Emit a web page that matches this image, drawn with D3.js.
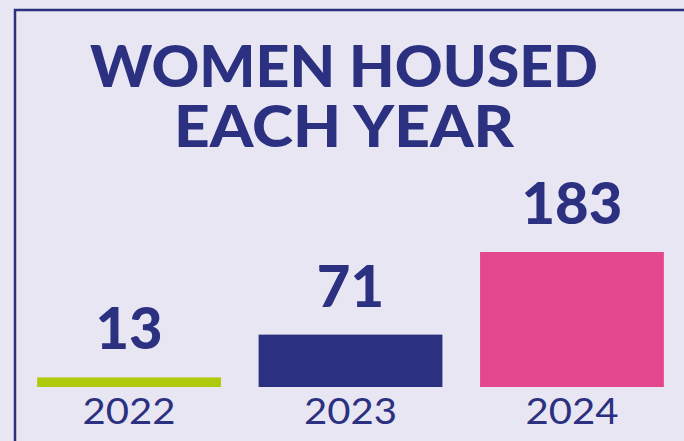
<!DOCTYPE html>
<html><head><meta charset="utf-8">
<script src="https://cdn.jsdelivr.net/npm/d3@7"></script>
<style>html,body{margin:0;padding:0;background:#e8e6f2;overflow:hidden}</style>
</head><body>
<svg id="c" width="684" height="441"></svg>
<script>
const years = ["2022", "2023", "2024"];
const values = [13, 71, 183];
const barColors = ["#afca0b", "#2b3180", "#e3488f"];
const titleLines = ["WOMEN HOUSED", "EACH YEAR"];

const W = 684, H = 441;
const navy = "#2b3180";
const svg = d3.select("#c");
svg.append("rect").attr("width", W).attr("height", H).attr("fill", "#e8e6f2");
// frame (left + top)
svg.append("path").attr("d", `M15,${H} L15,10 L${W},10`).attr("fill", "none")
  .attr("stroke", navy).attr("stroke-width", 2.5);

const titleW = [508, 340];
titleLines.forEach((t, i) => {
  svg.append("text").attr("x", 344).attr("y", 87 + i * 60)
    .attr("text-anchor", "middle").attr("font-family", "Lato").attr("font-weight", 900)
    .attr("font-size", 57).attr("fill", navy)
    .attr("textLength", titleW[i]).attr("lengthAdjust", "spacingAndGlyphs").text(t);
});

const x = d3.scaleBand().domain(years).range([15, 686]).paddingInner(0.17).paddingOuter(0.1);
const y = d3.scaleLinear().domain([0, 183]).range([387, 252]);

const g = svg.append("g");
g.selectAll("rect.bar").data(years).join("rect").attr("class", "bar")
  .attr("x", d => x(d)).attr("width", x.bandwidth())
  .attr("y", (d, i) => y(values[i])).attr("height", (d, i) => y(0) - y(values[i]))
  .attr("fill", (d, i) => barColors[i]);

g.selectAll("text.val").data(years).join("text").attr("class", "val")
  .attr("x", d => x(d) + x.bandwidth() / 2).attr("y", (d, i) => y(values[i]) - 28)
  .attr("text-anchor", "middle").attr("font-family", "Lato").attr("font-weight", 900)
  .attr("font-size", 58).attr("fill", navy).text((d, i) => values[i]);

g.selectAll("text.yr").data(years).join("text").attr("class", "yr")
  .attr("x", d => x(d) + x.bandwidth() / 2).attr("y", 424)
  .attr("text-anchor", "middle").attr("font-family", "Lato").attr("font-weight", 400)
  .attr("font-size", 37.5).attr("fill", navy)
  .attr("textLength", 93).attr("lengthAdjust", "spacingAndGlyphs").text(d => d);
</script>
</body></html>
